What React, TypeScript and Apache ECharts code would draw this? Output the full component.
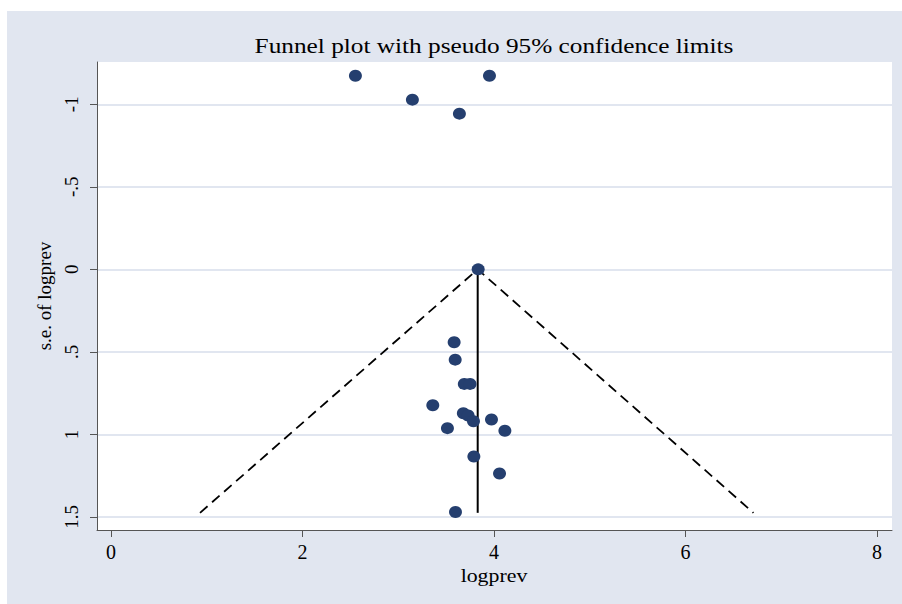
import React, { useEffect, useRef } from "react";
import * as echarts from "echarts";

const logprev = [2.553, 3.953, 3.148, 3.639, 3.835, 3.584, 3.595, 3.69, 3.75, 3.361, 3.68, 3.73, 3.786, 3.974, 3.514, 4.114, 3.79, 4.058, 3.598];
const seLogprev = [-1.173, -1.173, -1.028, -0.943, 0.0, 0.442, 0.547, 0.694, 0.694, 0.823, 0.872, 0.885, 0.92, 0.91, 0.962, 0.978, 1.134, 1.237, 1.47];
const pooled = 3.83;
const maxSe = 1.475;
const lowerLimit = 0.93;
const upperLimit = 6.71;
const xTicks = [0, 2, 4, 6, 8];
const yTicks = [-1, -0.5, 0, 0.5, 1, 1.5];
const yTickLabels = ["-1", "-.5", "0", ".5", "1", "1.5"];
const titleText = "Funnel plot with pseudo 95% confidence limits";
const xName = "logprev";
const yName = "s.e. of logprev";

const FONT = "'Liberation Serif', 'Times New Roman', serif";

export default function App() {
  const ref = useRef<HTMLDivElement>(null);
  useEffect(() => {
    if (!ref.current) return;
    const chart = echarts.init(ref.current, null, { renderer: "svg" });
    const points = logprev.map((x, i) => [x, seLogprev[i]]);
    chart.setOption({
      animation: false,
      backgroundColor: "#ffffff",
      textStyle: { fontFamily: FONT },
      graphic: [
        {
          type: "rect",
          shape: { x: 7, y: 11, width: 895, height: 593 },
          style: { fill: "#e1e6f0" },
          z: -10,
          silent: true,
        },
        {
          type: "text",
          x: 494,
          y: 46,
          scaleX: 1.15,
          style: {
            text: titleText,
            font: `22px ${FONT}`,
            fill: "#000",
            textAlign: "center",
            textVerticalAlign: "middle",
          },
          z: 10,
        },
        {
          type: "text",
          x: 494,
          y: 576,
          scaleX: 1.15,
          style: {
            text: xName,
            font: `19px ${FONT}`,
            fill: "#000",
            textAlign: "center",
            textVerticalAlign: "middle",
          },
          z: 10,
        },
      ],
      grid: {
        left: 97,
        right: 10,
        top: 62,
        bottom: 74,
        show: true,
        backgroundColor: "#ffffff",
        borderWidth: 0,
      },
      xAxis: {
        type: "value",
        min: -0.146,
        max: 8.157,
        axisLine: { show: true, onZero: false, lineStyle: { color: "#555", width: 1 } },
        axisTick: { show: true, length: 7, lineStyle: { color: "#555" }, customValues: xTicks },
        axisLabel: { fontFamily: FONT, fontSize: 20, color: "#000", margin: 12, customValues: xTicks },
        splitLine: { show: false },
      },
      yAxis: {
        type: "value",
        inverse: true,
        min: -1.256,
        max: 1.579,
        name: yName,
        nameLocation: "middle",
        nameRotate: 90,
        nameGap: 42,
        nameTextStyle: { fontFamily: FONT, fontSize: 19, color: "#000" },
        axisLine: { show: true, onZero: false, lineStyle: { color: "#555", width: 1 } },
        axisTick: { show: true, length: 7, lineStyle: { color: "#555" }, customValues: yTicks },
        axisLabel: {
          fontFamily: FONT,
          fontSize: 19,
          color: "#000",
          rotate: 90,
          margin: 16,
          customValues: yTicks,
          formatter: (v: number) => {
            const idx = yTicks.findIndex((t) => Math.abs(t - v) < 1e-6);
            return idx >= 0 ? yTickLabels[idx] : "";
          },
        },
        splitLine: { show: true, lineStyle: { color: "#e1e6f0", width: 2 } },
      },
      series: [
        {
          type: "line",
          data: [
            [lowerLimit, maxSe],
            [pooled, 0],
            [upperLimit, maxSe],
          ],
          symbol: "none",
          lineStyle: { color: "#000", width: 1.8, type: [10, 6] },
          z: 2,
        },
        {
          type: "line",
          data: [
            [pooled, 0],
            [pooled, maxSe],
          ],
          symbol: "none",
          lineStyle: { color: "#000", width: 2 },
          z: 2,
        },
        {
          type: "scatter",
          data: points,
          symbol: "circle",
          symbolSize: [13, 12],
          itemStyle: { color: "#253f6f", opacity: 1 },
          z: 3,
        },
      ],
    });
    return () => chart.dispose();
  }, []);
  return (
    <div
      ref={ref}
      style={{ position: "fixed", left: 0, top: 0, width: 902, height: 604 }}
    />
  );
}
